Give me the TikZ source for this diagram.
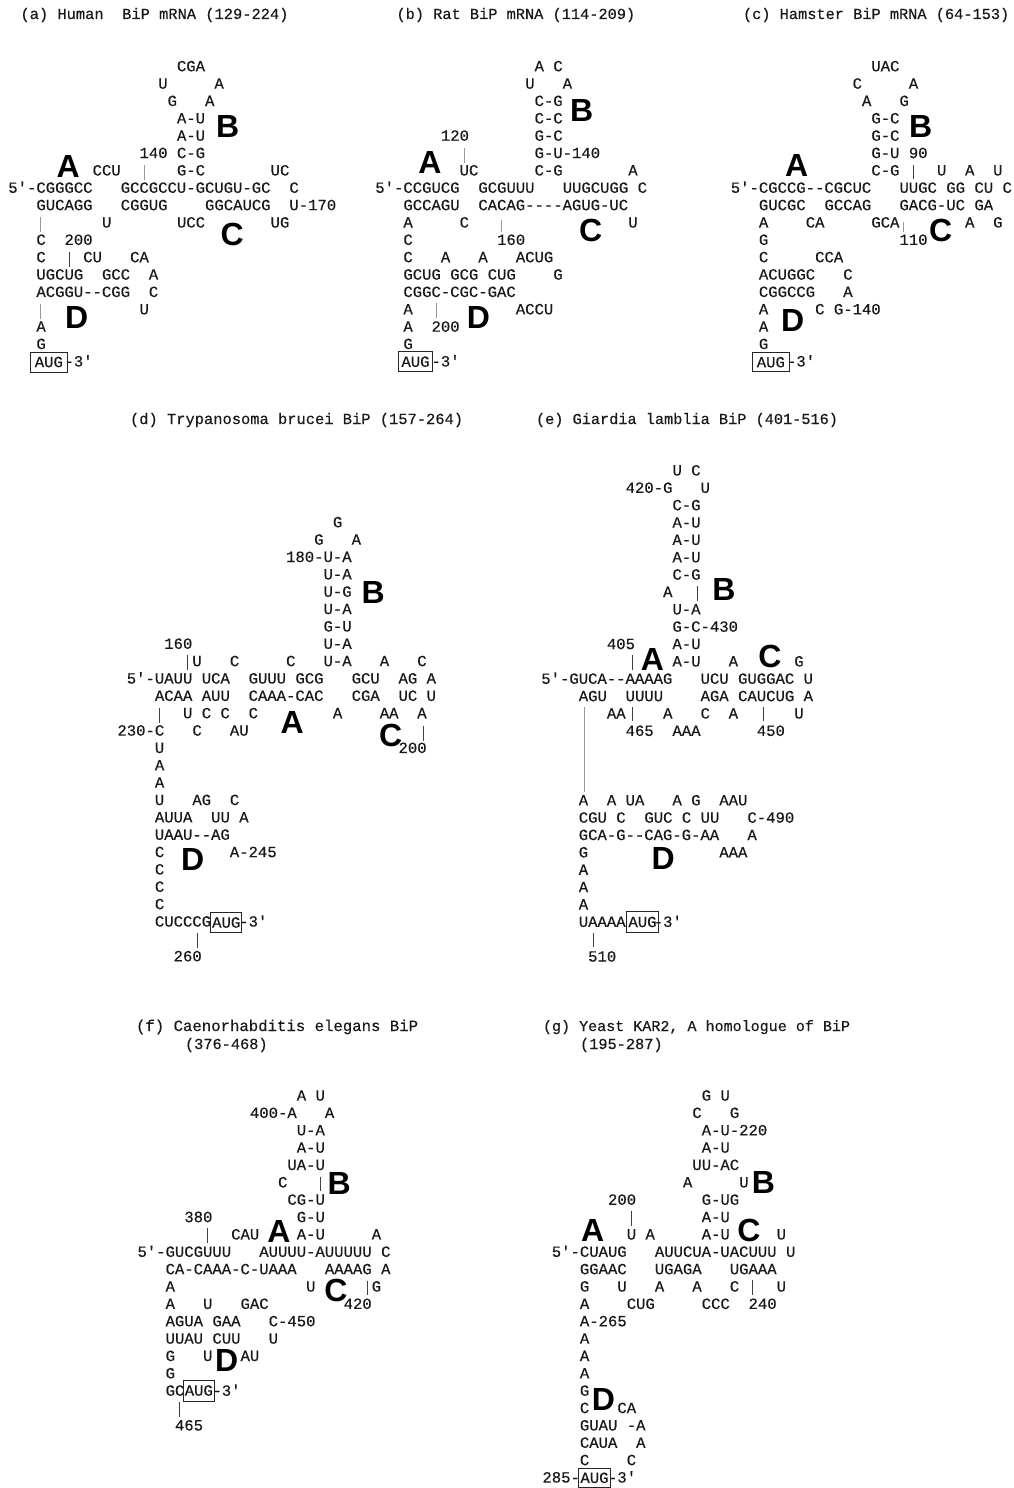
\documentclass[tikz,border=0pt]{standalone}
\usepackage{fontspec}
\newfontfamily\seqfam[FakeBold=0.35]{Liberation Mono}
\setsansfont{Liberation Sans}
\newcount\nodeno
\newcommand{\seqfont}{\seqfam\fontsize{15.6}{15.6}\selectfont}
\tikzset{
  seqtext/.style={anchor=base west,inner sep=0pt,outer sep=0pt,font=\seqfont,text=black!90},
  ttltext/.style={anchor=base west,inner sep=0pt,outer sep=0pt,text=black!90},
  bigletter/.style={anchor=center,inner sep=0pt,outer sep=0pt,font=\sffamily\bfseries\fontsize{32}{32}\selectfont,text=black},
  augbox/.style={draw=black!85,line width=0.9pt,inner sep=0pt,outer sep=0pt,font=\seqfont,text=black!90},
  tickdark/.style={draw=black!75,line width=0.8pt},
  tickfaint/.style={draw=black!40,line width=0.7pt}
}
\newcommand{\sq}[3]{\global\advance\nodeno by 1
  \node[seqtext] (s\the\nodeno) at ({\ox+#1*9.37},{\oy+#2*17.36}) {#3};}
\newcommand{\ttl}[4]{\global\advance\nodeno by 1
  \node[ttltext,font=\seqfam\fontsize{#1}{#1}\selectfont] (s\the\nodeno) at (#2,#3) {#4};}
\newcommand{\ltr}[3]{\global\advance\nodeno by 1
  \node[bigletter] (s\the\nodeno) at (#2,#3) {#1};}
\newcommand{\aug}[4]{\global\advance\nodeno by 1
  \pgfmathsetmacro{\boxW}{#2-#1}\pgfmathsetmacro{\boxH}{#4-#3}
  \node[augbox,minimum width=\boxW pt,minimum height=\boxH pt] (s\the\nodeno) at ({(#1+#2)/2},{(#3+#4)/2}) {AUG};}
\newcommand{\tk}[4]{\global\advance\nodeno by 1
  \coordinate (a\the\nodeno) at (#2,#3);
  \coordinate (b\the\nodeno) at (#2,#4);
  \draw[#1] (a\the\nodeno) -- (b\the\nodeno);}
\begin{document}
\begin{tikzpicture}[x=1pt,y=-1pt]
\path[use as bounding box,fill=white] (0,0) rectangle (1014,1488);
% titles
\ttl{15.4}{20.5}{19}{(a) Human\ \ BiP mRNA (129-224)}
\ttl{15.3}{396.5}{19}{(b) Rat BiP mRNA (114-209)}
\ttl{15.3}{743}{19}{(c) Hamster BiP mRNA (64-153)}
\ttl{15.42}{130}{424}{(d) Trypanosoma brucei BiP (157-264)}
\ttl{15.25}{536}{424}{(e) Giardia lamblia BiP (401-516)}
\ttl{15.67}{136}{1031}{(f) Caenorhabditis elegans BiP}
\ttl{15.3}{185}{1049}{(376-468)}
\ttl{15.05}{543}{1031}{(g) Yeast KAR2, A homologue of BiP}
\ttl{15.3}{580}{1049}{(195-287)}
% panel a
\def\ox{8.3}\def\oy{71.3}
\sq{18}{0}{CGA}
\sq{16}{1}{U}\sq{22}{1}{A}
\sq{17}{2}{G}\sq{21}{2}{A}
\sq{18}{3}{A-U}
\sq{18}{4}{A-U}
\sq{14}{5}{140}\sq{18}{5}{C-G}
\sq{9}{6}{CCU}\sq{18}{6}{G-C}\sq{28}{6}{UC}
\sq{0}{7}{5'-CGGGCC}\sq{12}{7}{GCCGCCU-GCUGU-GC}\sq{30}{7}{C}
\sq{3}{8}{GUCAGG}\sq{12}{8}{CGGUG}\sq{21}{8}{GGCAUCG}\sq{30}{8}{U-170}
\sq{10}{9}{U}\sq{18}{9}{UCC}\sq{28}{9}{UG}
\sq{3}{10}{C}\sq{6}{10}{200}
\sq{3}{11}{C}\sq{8}{11}{CU}\sq{13}{11}{CA}
\sq{3}{12}{UGCUG}\sq{10}{12}{GCC}\sq{15}{12}{A}
\sq{3}{13}{ACGGU--CGG}\sq{15}{13}{C}
\sq{14}{14}{U}
\sq{3}{15}{A}
\sq{3}{16}{G}
\sq{6}{17}{-3'}
\aug{30}{67.7}{352}{372}
\tk{tickfaint}{144.3}{165}{180}
\tk{tickfaint}{40.7}{217}{232}
\tk{tickdark}{69.3}{252}{267}
\tk{tickfaint}{40.7}{304}{319}
\ltr{A}{68.3}{166.7}\ltr{B}{227.7}{126}\ltr{C}{232.3}{234.3}\ltr{D}{76.7}{317.7}
% panel b
\def\ox{375.3}\def\oy{71.3}
\sq{17}{0}{A}\sq{19}{0}{C}
\sq{16}{1}{U}\sq{20}{1}{A}
\sq{17}{2}{C-G}
\sq{17}{3}{C-C}
\sq{7}{4}{120}\sq{17}{4}{G-C}
\sq{17}{5}{G-U-140}
\sq{9}{6}{UC}\sq{17}{6}{C-G}\sq{27}{6}{A}
\sq{0}{7}{5'-CCGUCG}\sq{11}{7}{GCGUUU}\sq{20}{7}{UUGCUGG}\sq{28}{7}{C}
\sq{3}{8}{GCCAGU}\sq{11}{8}{CACAG----AGUG-UC}
\sq{3}{9}{A}\sq{9}{9}{C}\sq{27}{9}{U}
\sq{3}{10}{C}\sq{13}{10}{160}
\sq{3}{11}{C}\sq{7}{11}{A}\sq{11}{11}{A}\sq{15}{11}{ACUG}
\sq{3}{12}{GCUG}\sq{8}{12}{GCG}\sq{12}{12}{CUG}\sq{19}{12}{G}
\sq{3}{13}{CGGC-CGC-GAC}
\sq{3}{14}{A}\sq{15}{14}{ACCU}
\sq{3}{15}{A}\sq{6}{15}{200}
\sq{3}{16}{G}
\sq{6}{17}{-3'}
\aug{398.3}{432.7}{351.7}{371.7}
\tk{tickfaint}{464}{148}{163}
\tk{tickfaint}{501.7}{220}{232}
\tk{tickfaint}{436}{303}{318}
\ltr{A}{430}{162.3}\ltr{B}{581.7}{110.7}\ltr{C}{590.7}{230}\ltr{D}{478.3}{317.7}
% panel c
\def\ox{730.8}\def\oy{71.3}
\sq{15}{0}{UAC}
\sq{13}{1}{C}\sq{19}{1}{A}
\sq{14}{2}{A}\sq{18}{2}{G}
\sq{15}{3}{G-C}
\sq{15}{4}{G-C}
\sq{15}{5}{G-U}\sq{19}{5}{90}
\sq{15}{6}{C-G}\sq{22}{6}{U}\sq{25}{6}{A}\sq{28}{6}{U}
\sq{0}{7}{5'-CGCCG--CGCUC}\sq{18}{7}{UUGC}\sq{23}{7}{GG}\sq{26}{7}{CU}\sq{29}{7}{C}
\sq{3}{8}{GUCGC}\sq{10}{8}{GCCAG}\sq{18}{8}{GACG-UC}\sq{26}{8}{GA}
\sq{3}{9}{A}\sq{8}{9}{CA}\sq{15}{9}{GCA}\sq{25}{9}{A}\sq{28}{9}{G}
\sq{3}{10}{G}\sq{18}{10}{110}
\sq{3}{11}{C}\sq{9}{11}{CCA}
\sq{3}{12}{ACUGGC}\sq{12}{12}{C}
\sq{3}{13}{CGGCCG}\sq{12}{13}{A}
\sq{3}{14}{A}\sq{9}{14}{C}\sq{11}{14}{G-140}
\sq{3}{15}{A}
\sq{3}{16}{G}
\sq{6}{17}{-3'}
\aug{752.7}{789}{352.7}{371.7}
\tk{tickdark}{913.3}{165}{179}
\tk{tickfaint}{903.3}{222}{232}
\ltr{A}{796.7}{165.7}\ltr{B}{920.7}{126.7}\ltr{C}{940.7}{230}\ltr{D}{792.7}{320}
% panel d
\def\ox{126.8}\def\oy{527.3}
\sq{22}{0}{G}
\sq{20}{1}{G}\sq{24}{1}{A}
\sq{17}{2}{180-U-A}
\sq{21}{3}{U-A}
\sq{21}{4}{U-G}
\sq{21}{5}{U-A}
\sq{21}{6}{G-U}
\sq{4}{7}{160}\sq{21}{7}{U-A}
\sq{7}{8}{U}\sq{11}{8}{C}\sq{17}{8}{C}\sq{21}{8}{U-A}\sq{27}{8}{A}\sq{31}{8}{C}
\sq{0}{9}{5'-UAUU}\sq{8}{9}{UCA}\sq{13}{9}{GUUU}\sq{18}{9}{GCG}\sq{24}{9}{GCU}\sq{29}{9}{AG}\sq{32}{9}{A}
\sq{3}{10}{ACAA}\sq{8}{10}{AUU}\sq{13}{10}{CAAA-CAC}\sq{24}{10}{CGA}\sq{29}{10}{UC}\sq{32}{10}{U}
\sq{6}{11}{U}\sq{8}{11}{C}\sq{10}{11}{C}\sq{13}{11}{C}\sq{22}{11}{A}\sq{27}{11}{AA}\sq{31}{11}{A}
\sq{-1}{12}{230-C}\sq{7}{12}{C}\sq{11}{12}{AU}
\sq{3}{13}{U}\sq{29}{13}{200}
\sq{3}{14}{A}
\sq{3}{15}{A}
\sq{3}{16}{U}\sq{7}{16}{AG}\sq{11}{16}{C}
\sq{3}{17}{AUUA}\sq{9}{17}{UU}\sq{12}{17}{A}
\sq{3}{18}{UAAU--AG}
\sq{3}{19}{C}\sq{11}{19}{A-245}
\sq{3}{20}{C}
\sq{3}{21}{C}
\sq{3}{22}{C}
\sq{3}{23}{CUCCCG}\sq{12}{23}{-3'}
\sq{5}{25}{260}
\aug{210.7}{241.7}{912.7}{932.3}
\tk{tickdark}{187.7}{655}{670}
\tk{tickdark}{159}{708}{722.7}
\tk{tickdark}{423.3}{726}{740.7}
\tk{tickdark}{197}{933}{948}
\ltr{B}{373.3}{592.7}\ltr{A}{292.3}{722.7}\ltr{C}{390.7}{735}\ltr{D}{192.7}{859.3}
% panel e
\def\ox{541.3}\def\oy{475.5}
\sq{14}{0}{U}\sq{16}{0}{C}
\sq{9}{1}{420-G}\sq{17}{1}{U}
\sq{14}{2}{C-G}
\sq{14}{3}{A-U}
\sq{14}{4}{A-U}
\sq{14}{5}{A-U}
\sq{14}{6}{C-G}
\sq{13}{7}{A}
\sq{14}{8}{U-A}
\sq{14}{9}{G-C-430}
\sq{7}{10}{405}\sq{14}{10}{A-U}
\sq{14}{11}{A-U}\sq{20}{11}{A}\sq{27}{11}{G}
\sq{0}{12}{5'-GUCA--AAAAG}\sq{17}{12}{UCU}\sq{21}{12}{GUGGAC}\sq{28}{12}{U}
\sq{4}{13}{AGU}\sq{9}{13}{UUUU}\sq{17}{13}{AGA}\sq{21}{13}{CAUCUG}\sq{28}{13}{A}
\sq{7}{14}{AA}\sq{13}{14}{A}\sq{17}{14}{C}\sq{20}{14}{A}\sq{27}{14}{U}
\sq{9}{15}{465}\sq{14}{15}{AAA}\sq{23}{15}{450}
\sq{4}{19}{A}\sq{7}{19}{A}\sq{9}{19}{UA}\sq{14}{19}{A}\sq{16}{19}{G}\sq{19}{19}{AAU}
\sq{4}{20}{CGU}\sq{8}{20}{C}\sq{11}{20}{GUC}\sq{15}{20}{C}\sq{17}{20}{UU}\sq{22}{20}{C-490}
\sq{4}{21}{GCA-G--CAG-G-AA}\sq{22}{21}{A}
\sq{4}{22}{G}\sq{19}{22}{AAA}
\sq{4}{23}{A}
\sq{4}{24}{A}
\sq{4}{25}{A}
\sq{4}{26}{UAAAA}\sq{12}{26}{-3'}
\sq{5}{28}{510}
\aug{626.8}{658.2}{911.7}{932.2}
\tk{tickdark}{631.9}{655}{669.7}
\tk{tickdark}{697.6}{585.5}{601}
\tk{tickdark}{631.9}{706.8}{721.3}
\tk{tickdark}{763.7}{706.8}{721.3}
\tk{tickfaint}{584}{706.8}{792}
\tk{tickdark}{593.5}{932.6}{947}
\ltr{B}{723.9}{589.9}\ltr{A}{652.4}{659}\ltr{C}{770}{656}\ltr{D}{663.2}{858.4}
% panel f
\def\ox{137.5}\def\oy{1100.6}
\sq{17}{0}{A}\sq{19}{0}{U}
\sq{12}{1}{400-A}\sq{20}{1}{A}
\sq{17}{2}{U-A}
\sq{17}{3}{A-U}
\sq{16}{4}{UA-U}
\sq{15}{5}{C}
\sq{16}{6}{CG-U}
\sq{5}{7}{380}\sq{17}{7}{G-U}
\sq{10}{8}{CAU}\sq{17}{8}{A-U}\sq{25}{8}{A}
\sq{0}{9}{5'-GUCGUUU}\sq{13}{9}{AUUUU-AUUUUU}\sq{26}{9}{C}
\sq{3}{10}{CA-CAAA-C-UAAA}\sq{20}{10}{AAAAG}\sq{26}{10}{A}
\sq{3}{11}{A}\sq{18}{11}{U}\sq{25}{11}{G}
\sq{3}{12}{A}\sq{7}{12}{U}\sq{11}{12}{GAC}\sq{22}{12}{420}
\sq{3}{13}{AGUA}\sq{8}{13}{GAA}\sq{14}{13}{C-450}
\sq{3}{14}{UUAU}\sq{8}{14}{CUU}\sq{14}{14}{U}
\sq{3}{15}{G}\sq{7}{15}{U}\sq{11}{15}{AU}
\sq{3}{16}{G}
\sq{3}{17}{GC}\sq{8}{17}{-3'}
\sq{4}{19}{465}
\aug{183.3}{214.3}{1380}{1401}
\tk{tickdark}{207.7}{1228.3}{1243.3}
\tk{tickdark}{320}{1176.7}{1190.7}
\tk{tickdark}{367.3}{1280.7}{1295}
\tk{tickdark}{179.3}{1401.7}{1416.7}
\ltr{B}{339.3}{1183.3}\ltr{A}{279}{1231.7}\ltr{C}{336}{1290.7}\ltr{D}{226.7}{1360.7}
% panel g
\def\ox{551.8}\def\oy{1100.6}
\sq{16}{0}{G}\sq{18}{0}{U}
\sq{15}{1}{C}\sq{19}{1}{G}
\sq{16}{2}{A-U-220}
\sq{16}{3}{A-U}
\sq{15}{4}{UU-AC}
\sq{14}{5}{A}\sq{20}{5}{U}
\sq{6}{6}{200}\sq{16}{6}{G-UG}
\sq{16}{7}{A-U}
\sq{8}{8}{U}\sq{10}{8}{A}\sq{16}{8}{A-U}\sq{24}{8}{U}
\sq{0}{9}{5'-CUAUG}\sq{11}{9}{AUUCUA-UACUUU}\sq{25}{9}{U}
\sq{3}{10}{GGAAC}\sq{11}{10}{UGAGA}\sq{19}{10}{UGAAA}
\sq{3}{11}{G}\sq{7}{11}{U}\sq{11}{11}{A}\sq{15}{11}{A}\sq{19}{11}{C}\sq{24}{11}{U}
\sq{3}{12}{A}\sq{8}{12}{CUG}\sq{16}{12}{CCC}\sq{21}{12}{240}
\sq{3}{13}{A-265}
\sq{3}{14}{A}
\sq{3}{15}{A}
\sq{3}{16}{A}
\sq{3}{17}{G}
\sq{3}{18}{C}\sq{7}{18}{CA}
\sq{3}{19}{GUAU}\sq{8}{19}{-A}
\sq{3}{20}{CAUA}\sq{9}{20}{A}
\sq{3}{21}{C}\sq{8}{21}{C}
\sq{-1}{22}{285-}\sq{6}{22}{-3'}
\aug{578.3}{610.7}{1468.3}{1487.3}
\tk{tickdark}{631}{1210.7}{1225.7}
\tk{tickdark}{752.3}{1280}{1295}
\ltr{B}{763.3}{1182.3}\ltr{A}{592.7}{1230.7}\ltr{C}{749}{1230}\ltr{D}{603.3}{1399.3}
\end{tikzpicture}
\end{document}
